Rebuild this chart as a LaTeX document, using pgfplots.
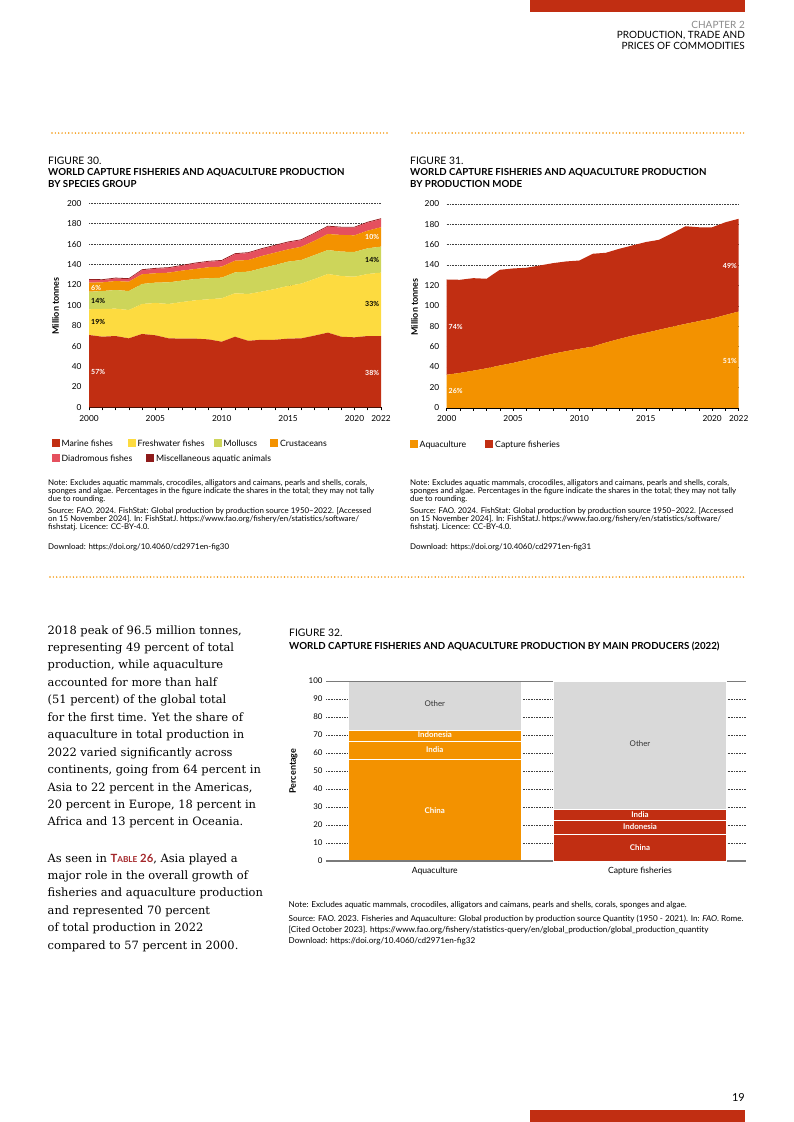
\documentclass[border=0pt]{standalone}
\usepackage{fontspec}
\setmainfont{Lato}
\newfontfamily\bodyserif{DejaVu Serif}
\usepackage{pgfplots}
\pgfplotsset{compat=1.18}
\usepackage{pgfplotstable}

\definecolor{capred}{HTML}{C12E12}
\definecolor{fresh}{HTML}{FDDB40}
\definecolor{moll}{HTML}{CDD55A}
\definecolor{crust}{HTML}{F39200}
\definecolor{diad}{HTML}{E5505E}
\definecolor{miscred}{HTML}{8E1B1B}
\definecolor{othergray}{HTML}{D9D9D9}
\definecolor{chapgray}{HTML}{8A8A8A}
\definecolor{tabred}{HTML}{A3262A}
\definecolor{axisgray}{HTML}{7A7A7A}

\newcommand{\headfont}{\fontsize{10}{11}\selectfont}
\newcommand{\figfont}{\fontsize{10.3}{11}\selectfont}
\newcommand{\figbold}{\fontsize{9.7}{11}\selectfont\bfseries}
\newcommand{\tickfont}{\fontsize{8.3}{9}\selectfont}
\newcommand{\legfont}{\fontsize{8.7}{9}\selectfont}
\newcommand{\notefont}{\fontsize{7.9}{8}\selectfont}
\newcommand{\pctfont}{\fontsize{7}{7}\selectfont\bfseries}
\newcommand{\barfont}{\fontsize{7.9}{8}\selectfont}
\newcommand{\bodyfont}{\bodyserif\fontsize{11.45}{12}\selectfont}
\newcommand{\ttlfont}{\fontsize{9}{9}\selectfont\bfseries}

% million tonnes, by species group (layer thicknesses)
\pgfplotstableread{
year marine fresh moll crust diad misc
2000 70.9 25.2 17.2  8.9 2.8 0.8
2001 69.2 27.2 17.6  8.5 2.2 0.8
2002 69.9 26.8 18.3  8.8 2.5 0.8
2003 67.6 27.8 18.6  9.2 2.5 0.8
2004 71.9 29.4 19.6  9.5 4.1 0.8
2005 70.6 31.7 19.9  9.2 4.4 0.8
2006 67.6 33.7 21.2  9.5 4.5 0.8
2007 67.3 35.9 21.0  9.8 4.7 0.8
2008 67.3 37.6 20.9  9.8 5.4 0.8
2009 66.6 39.3 20.6 10.8 5.4 0.8
2010 64.3 42.6 20.2 10.8 5.7 0.8
2011 69.2 42.6 20.5 11.4 6.5 0.8
2012 65.2 45.9 21.9 11.4 6.8 0.8
2013 66.2 47.2 22.9 12.0 6.8 0.8
2014 66.2 49.8 23.5 12.1 6.8 0.8
2015 67.3 51.7 23.8 12.0 6.9 0.8
2016 67.6 53.7 23.1 13.0 6.5 0.8
2017 70.3 55.5 23.5 14.0 7.1 0.8
2018 73.2 57.5 23.5 15.7 7.3 0.8
2019 69.2 59.5 23.9 16.4 7.2 0.8
2020 68.6 59.4 24.3 16.3 7.6 0.8
2021 69.9 60.8 25.2 17.3 7.9 0.8
2022 69.9 62.1 25.5 19.0 8.0 0.8
}\speciesdata

% million tonnes, by production mode
\pgfplotstableread{
year aqua capt
2000 32.4 93.4
2001 34.2 91.3
2002 36.4 90.7
2003 38.7 87.8
2004 41.5 93.8
2005 44.0 92.6
2006 47.0 90.3
2007 50.0 89.5
2008 53.0 88.8
2009 55.5 88.0
2010 57.8 86.6
2011 60.0 91.0
2012 64.0 88.0
2013 67.5 88.4
2014 70.8 88.4
2015 73.5 89.0
2016 76.5 88.2
2017 79.5 91.7
2018 82.3 95.7
2019 85.0 92.0
2020 87.5 89.5
2021 91.0 90.9
2022 94.4 90.9
}\modedata

\pgfplotsset{
  dotgrid/.style={grid style={black!75, line width=0.45pt, dash pattern=on 0.5pt off 1.1pt}},
  areachart/.style={
    anchor=south west, scale only axis, width=292pt, height=204pt,
    xmin=2000, xmax=2022, ymin=0, ymax=200,
    stack plots=y,
    axis x line*=bottom, axis y line*=left,
    y axis line style={draw=none},
    x axis line style={black, line width=0.6pt},
    xtick={2000,2005,2010,2015,2020,2022},
    minor xtick={2000,...,2022},
    tick align=outside,
    major tick length=3pt, minor tick length=3pt,
    tick style={black, line width=0.5pt},
    ytick={0,20,...,200}, ytick style={draw=none},
    ymajorgrids, dotgrid,
    tick label style={font=\tickfont},
    yticklabel style={xshift=-1pt},
    xticklabel style={yshift=-1.5pt},
    /pgf/number format/1000 sep={},
    /pgf/number format/assume math mode=true,
    clip=false,
  },
  barchart/.style={
    at={(326pt,-861pt)}, anchor=south west, scale only axis,
    width=419.7pt, height=180pt,
    xmin=-0.53, xmax=1.515, ymin=0, ymax=100,
    ybar stacked, bar width=0.843,
    axis line style={draw=none}, tick style={draw=none},
    clip=false,
  },
}
\tikzset{
  pct/.style={font=\pctfont, inner sep=0pt},
  barlab/.style={font=\barfont\bfseries, text=white, inner sep=0pt},
}

\begin{document}
\begin{tikzpicture}
\path[use as bounding box] (0,0) rectangle (793pt,-1122pt);

\begin{scope}[x=1pt,y=-1pt]
% page furniture
\fill[capred] (530,0) rectangle (745,12);
\fill[capred] (530,1110) rectangle (745,1122);
\node[anchor=base east, inner sep=0, font=\headfont, text=chapgray] at (745,28.3) {CHAPTER 2};
\node[anchor=base east, inner sep=0, font=\headfont] at (745,38.8) {PRODUCTION, TRADE AND};
\node[anchor=base east, inner sep=0, font=\headfont] at (745,49) {PRICES OF COMMODITIES};
\node[anchor=base east, inner sep=0, font=\fontsize{11}{12}\selectfont] at (745,1101.5) {19};

\draw[crust, line width=1.6pt, line cap=round, dash pattern=on 0pt off 3.35pt] (52,133) -- (387,133);
\draw[crust, line width=1.6pt, line cap=round, dash pattern=on 0pt off 3.35pt] (412,133) -- (745,133);
\draw[crust, line width=1.6pt, line cap=round, dash pattern=on 0pt off 3.35pt] (50,577) -- (745,577);

% figure titles
\node[anchor=base west, inner sep=0, font=\figfont] at (48,164.3) {FIGURE 30.};
\node[anchor=base west, inner sep=0, font=\figbold] at (48,175.3) {WORLD CAPTURE FISHERIES AND AQUACULTURE PRODUCTION};
\node[anchor=base west, inner sep=0, font=\figbold] at (48,187.3) {BY SPECIES GROUP};
\node[anchor=base west, inner sep=0, font=\figfont] at (410,164.3) {FIGURE 31.};
\node[anchor=base west, inner sep=0, font=\figbold] at (410,175.3) {WORLD CAPTURE FISHERIES AND AQUACULTURE PRODUCTION};
\node[anchor=base west, inner sep=0, font=\figbold] at (410,187.3) {BY PRODUCTION MODE};
\node[anchor=base west, inner sep=0, font=\figfont] at (289,636.5) {FIGURE 32.};
\node[anchor=base west, inner sep=0, font=\figbold] at (289,649.5) {WORLD CAPTURE FISHERIES AND AQUACULTURE PRODUCTION BY MAIN PRODUCERS (2022)};

% axis titles
\node[rotate=90, inner sep=0, font=\ttlfont] at (55.5,306) {Million tonnes};
\node[rotate=90, inner sep=0, font=\ttlfont] at (414.5,307) {Million tonnes};
\node[rotate=90, inner sep=0, font=\ttlfont] at (293.5,771) {Percentage};

% legends
\foreach \col/\xx/\yy/\txt in {capred/51.5/439/Marine fishes, fresh/127.5/439/Freshwater fishes,
    moll/213.5/439/Molluscs, crust/270/439/Crustaceans, diad/51.5/454/Diadromous fishes,
    miscred/146/454/Miscellaneous aquatic animals, crust/409.5/440/Aquaculture, capred/485/440/Capture fisheries}{
  \fill[\col] (\xx,\yy) rectangle ++(8,8);
  \node[anchor=base west, inner sep=0, font=\legfont] at (\xx+10,\yy+7.4) {\txt};
}

% notes, figures 30 and 31
\foreach \xx/\nn in {48/30, 410/31}{
  \foreach \yy/\txt in {
      485/{Note: Excludes aquatic mammals, crocodiles, alligators and caimans, pearls and shells, corals,},
      493/{sponges and algae. Percentages in the figure indicate the shares in the total; they may not tally},
      501/{due to rounding.},
      513.5/{Source: FAO. 2024. FishStat: Global production by production source 1950–2022. [Accessed},
      521.5/{on 15 November 2024]. In: FishStatJ. https://www.fao.org/fishery/en/statistics/software/},
      529.5/{fishstatj. Licence: CC-BY-4.0.},
      549.5/{Download: https://doi.org/10.4060/cd2971en-fig\nn}}{
    \node[anchor=base west, inner sep=0, font=\notefont] at (\xx,\yy) {\txt};
  }
}

% notes, figure 32
\foreach \yy/\txt in {
    907.5/{Note: Excludes aquatic mammals, crocodiles, alligators and caimans, pearls and shells, corals, sponges and algae.},
    921.5/{Source: FAO. 2023. Fisheries and Aquaculture: Global production by production source Quantity (1950 - 2021). In: \textit{FAO}. Rome.},
    932.5/{[Cited October 2023]. https://www.fao.org/fishery/statistics-query/en/global\_production/global\_production\_quantity},
    943.5/{Download: https://doi.org/10.4060/cd2971en-fig32}}{
  \node[anchor=base west, inner sep=0, font=\fontsize{8.15}{9}\selectfont] at (288.5,\yy) {\txt};
}

% body text
\foreach \txt [count=\i from 0] in {
    {2018 peak of 96.5 million tonnes,},
    {representing 49 percent of total},
    {production, while aquaculture},
    {accounted for more than half},
    {(51 percent) of the global total},
    {for the first time. Yet the share of},
    {aquaculture in total production in},
    {2022 varied significantly across},
    {continents, going from 64 percent in},
    {Asia to 22 percent in the Americas,},
    {20 percent in Europe, 18 percent in},
    {Africa and 13 percent in Oceania.}}{
  \node[anchor=base west, inner sep=0, font=\bodyfont] at (47.5,634+17.45*\i) {\txt};
}
\foreach \txt [count=\i from 0] in {
    {As seen in {\normalfont\color{tabred}\fontsize{11.3}{12}\selectfont\bfseries T{\fontsize{8.2}{9}\selectfont ABLE} 26}, Asia played a},
    {major role in the overall growth of},
    {fisheries and aquaculture production},
    {and represented 70 percent},
    {of total production in 2022},
    {compared to 57 percent in 2000.}}{
  \node[anchor=base west, inner sep=0, font=\bodyfont] at (47.5,862+17.45*\i) {\txt};
}
\end{scope}

% FIGURE 30
\begin{axis}[areachart, at={(89pt,-407.3pt)}]
\addplot[fill=capred, draw=none] table[x=year, y=marine] {\speciesdata} \closedcycle;
\addplot[fill=fresh, draw=none] table[x=year, y=fresh] {\speciesdata} \closedcycle;
\addplot[fill=moll, draw=none] table[x=year, y=moll] {\speciesdata} \closedcycle;
\addplot[fill=crust, draw=none] table[x=year, y=crust] {\speciesdata} \closedcycle;
\addplot[fill=diad, draw=none] table[x=year, y=diad] {\speciesdata} \closedcycle;
\addplot[fill=miscred, draw=none] table[x=year, y=misc] {\speciesdata} \closedcycle;
\end{axis}

% FIGURE 31
\begin{axis}[areachart, at={(446.7pt,-407.8pt)}]
\addplot[fill=crust, draw=none] table[x=year, y=aqua] {\modedata} \closedcycle;
\addplot[fill=capred, draw=none] table[x=year, y=capt] {\modedata} \closedcycle;
\end{axis}

% FIGURE 32: aquaculture bar with the axis
\begin{axis}[barchart,
  xtick={0,1}, xticklabels={Aquaculture, Capture fisheries},
  ytick={0,10,...,100},
  ymajorgrids, dotgrid,
  tick label style={font=\fontsize{7.9}{9}\selectfont},
  xticklabel style={font=\fontsize{8.6}{9}\selectfont, yshift=-3pt},
  /pgf/number format/assume math mode=true]
\addplot[fill=crust, draw=white, line width=1pt] coordinates {(0,56.5)};
\addplot[fill=crust, draw=white, line width=1pt] coordinates {(0,10)};
\addplot[fill=crust, draw=white, line width=1pt] coordinates {(0,6)};
\addplot[fill=othergray, draw=white, line width=1pt] coordinates {(0,27.5)};
\end{axis}

% FIGURE 32: capture fisheries bar
\begin{axis}[barchart, hide axis]
\addplot[fill=capred, draw=white, line width=1pt] coordinates {(1,14.5)};
\addplot[fill=capred, draw=white, line width=1pt] coordinates {(1,8)};
\addplot[fill=capred, draw=white, line width=1pt] coordinates {(1,6)};
\addplot[fill=othergray, draw=white, line width=1pt] coordinates {(1,71.5)};
\draw[axisgray, line width=1.3pt] (rel axis cs:0,0) -- (rel axis cs:1,0);
\draw[axisgray, line width=0.9pt] (rel axis cs:0,1) -- (rel axis cs:1,1);
\end{axis}

% value labels on top of the charts
\begin{scope}[x=1pt,y=-1pt]
\node[pct, anchor=west, text=white] at (91,288) {6\%};
\node[pct, anchor=west] at (91,301) {14\%};
\node[pct, anchor=west] at (91,322.3) {19\%};
\node[pct, anchor=west, text=white] at (91,371.7) {57\%};
\node[pct, anchor=east, text=white] at (379.3,237.3) {10\%};
\node[pct, anchor=east] at (379.3,260) {14\%};
\node[pct, anchor=east] at (379.3,304.3) {33\%};
\node[pct, anchor=east, text=white] at (379.3,372.5) {38\%};
\node[pct, anchor=east, text=white] at (737,266) {49\%};
\node[pct, anchor=west, text=white] at (448.5,327) {74\%};
\node[pct, anchor=east, text=white] at (737,360.7) {51\%};
\node[pct, anchor=west, text=white] at (448.5,391) {26\%};
\node[font=\barfont, text=black!80, inner sep=0] at (434.8,704) {Other};
\node[barlab] at (434.8,735) {Indonesia};
\node[barlab] at (434.8,749.3) {India};
\node[barlab] at (434.8,811) {China};
\node[font=\barfont, text=black!80, inner sep=0] at (640,744) {Other};
\node[barlab] at (640,815) {India};
\node[barlab] at (640,827) {Indonesia};
\node[barlab] at (640,847.7) {China};
\end{scope}
\end{tikzpicture}
\end{document}
